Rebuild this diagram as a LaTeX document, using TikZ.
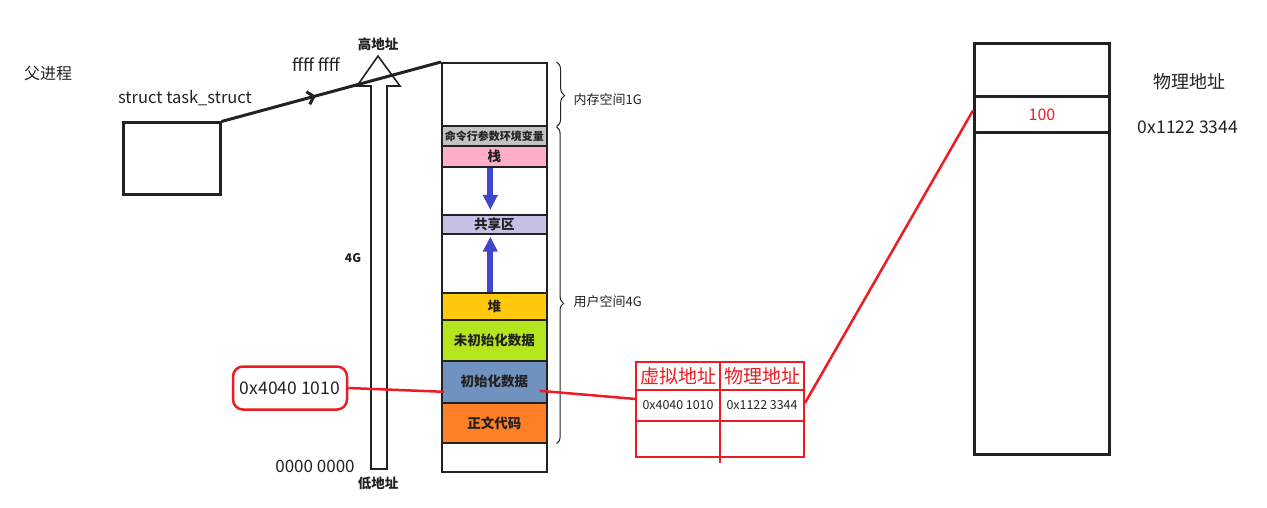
\documentclass[tikz,border=0pt]{standalone}
\usepackage{fontspec}
\setmainfont{Noto Sans CJK SC}
\usetikzlibrary{arrows.meta,decorations.pathreplacing,decorations.markings}
\definecolor{ink}{HTML}{222222}
\definecolor{redline}{HTML}{ED1C24}
\definecolor{envgray}{HTML}{C3C3C3}
\definecolor{stackpink}{HTML}{FFAEC9}
\definecolor{sharelilac}{HTML}{C8BFE7}
\definecolor{heapgold}{HTML}{FFC90E}
\definecolor{bssgreen}{HTML}{B5E61D}
\definecolor{datablue}{HTML}{7092BE}
\definecolor{codeorange}{HTML}{FF7F27}
\definecolor{growblue}{HTML}{3F48CC}

\begin{document}
\begin{tikzpicture}[x=1pt,y=-1pt,text=ink,>=Latex,
  seg/.style={draw=ink,line width=1.6pt,anchor=north west,minimum width=105pt,
    inner sep=0pt,font=\fontsize{13.5}{13.5}\selectfont\bfseries},
  growarrow/.style={growblue,line width=6pt,-{Triangle[length=15pt,width=14pt]}},
  redwire/.style={redline,line width=2.5pt},
  tbl/.style={redline,line width=2.8pt},
  bracer/.style={decorate,ink,line width=1pt}]
  \useasboundingbox (0,0) rectangle (1267,508);

  % Parent process
  \node[font=\fontsize{16}{16}\selectfont] (parent) at (48,74) {父进程};
  \node[font=\fontsize{16.5}{16.5}\selectfont] (tslabel) at (185,98) {struct task\_struct};
  \node[draw=ink,line width=3pt,minimum width=97pt,minimum height=72pt]
    (task) at (171.5,159) {};

  % Address axis
  \draw[ink,line width=1.6pt,fill=white]
    (371,469) -- (371,86) -- (357,86) -- (378,56) -- (400,86) -- (387,86)
    -- (387,469) -- cycle;
  \node[font=\fontsize{13.5}{13.5}\selectfont\bfseries] (high) at (378,44) {高地址};
  \node[font=\fontsize{13.5}{13.5}\selectfont\bfseries] (low) at (378,483) {低地址};
  \node[font=\fontsize{12}{12}\selectfont\bfseries] (size) at (353,258) {4G};
  \node[font=\fontsize{17}{17}\selectfont] (zero) at (315,466) {0000 0000};
  \node[font=\fontsize{17}{17}\selectfont] (top) at (316,65) {ffff ffff};

  % Virtual memory layout
  \node[seg,minimum height=63pt] (kernel) at (441,62) {};
  \node[seg,fill=envgray,minimum height=20pt,font=\fontsize{11}{11}\selectfont\bfseries]
    (env) at (441,125) {命令行参数环境变量};
  \node[seg,fill=stackpink,minimum height=21pt] (stack) at (441,145) {栈};
  \node[seg,minimum height=48pt] (gapa) at (441,166) {};
  \node[seg,fill=sharelilac,minimum height=19pt] (share) at (441,214) {共享区};
  \node[seg,minimum height=59pt] (gapb) at (441,233) {};
  \node[seg,fill=heapgold,minimum height=27pt] (heap) at (441,292) {堆};
  \node[seg,fill=bssgreen,minimum height=41pt] (bss) at (441,319) {未初始化数据};
  \node[seg,fill=datablue,minimum height=42pt] (data) at (441,360) {初始化数据};
  \node[seg,fill=codeorange,minimum height=40pt] (code) at (441,402) {正文代码};
  \node[seg,minimum height=29pt] (bottom) at (441,442) {};

  \draw[growarrow] ([xshift=-4pt,yshift=-2pt]gapa.north) -- ([xshift=-4pt,yshift=4pt]share.north);
  \draw[growarrow] ([xshift=-4pt]heap.north) -- ([xshift=-4pt,yshift=-2pt]share.south);

  \draw[ink,line width=3pt,postaction={decorate},
    decoration={markings,mark=at position .43 with {\arrow{Straight Barb[length=6pt,width=13pt]}}}]
    (task.north east) -- (kernel.north west);

  % Braces
  \draw[bracer,decoration={brace,amplitude=8pt,aspect=.52}]
    ([xshift=9pt]kernel.north east) -- ([xshift=9pt]kernel.south east);
  \node[anchor=west,font=\fontsize{13}{13}\selectfont] (klabel) at (570,100) {内存空间1G};
  \draw[bracer,decoration={brace,amplitude=7pt,aspect=.557}]
    ([xshift=9pt,yshift=-2pt]env.north east) -- ([xshift=9pt]code.south east);
  \node[anchor=west,font=\fontsize{13}{13}\selectfont] (ulabel) at (570,302) {用户空间4G};

  % Virtual address
  \node[draw=redline,line width=2.5pt,rounded corners=10pt,minimum width=114pt,
    minimum height=43pt,font=\fontsize{17.5}{17.5}\selectfont] (addr) at (290,388) {0x4040 1010};
  \draw[redwire] (addr.east) -- ([xshift=3pt,yshift=-10pt]data.west);

  % Page table
  \draw[tbl] (636,362) rectangle (804,457);
  \draw[tbl] (636,390) -- (804,390);
  \draw[tbl] (636,421) -- (804,421);
  \draw[tbl] (720,362) -- (720,463);
  \node[redline,font=\fontsize{19}{19}\selectfont] (vhead) at (678,376) {虚拟地址};
  \node[redline,font=\fontsize{19}{19}\selectfont] (phead) at (762,376) {物理地址};
  \node[font=\fontsize{12.4}{12.4}\selectfont] (vaddr) at (678,405) {0x4040 1010};
  \node[font=\fontsize{12.4}{12.4}\selectfont] (paddr) at (762,405) {0x1122 3344};
  \coordinate (tblin) at (636,399);
  \coordinate (tblout) at (805,403);
  \draw[redwire] ([xshift=-8pt,yshift=-9pt]data.east) -- (tblin);

  % Physical memory
  \node[draw=ink,line width=3pt,anchor=north west,minimum width=135pt,
    minimum height=411pt] (phys) at (973,42) {};
  \node[draw=ink,line width=3pt,anchor=north west,minimum width=135pt,
    minimum height=36pt,text=redline,font=\fontsize{16}{16}\selectfont] (prow) at (973,95) {100};
  \draw[redwire] (tblout) -- ([yshift=4pt]prow.west);
  \node[font=\fontsize{18}{18}\selectfont] (plabel) at (1189,82) {物理地址};
  \node[font=\fontsize{17.5}{17.5}\selectfont] (pvalue) at (1188,127) {0x1122 3344};
\end{tikzpicture}
\end{document}
